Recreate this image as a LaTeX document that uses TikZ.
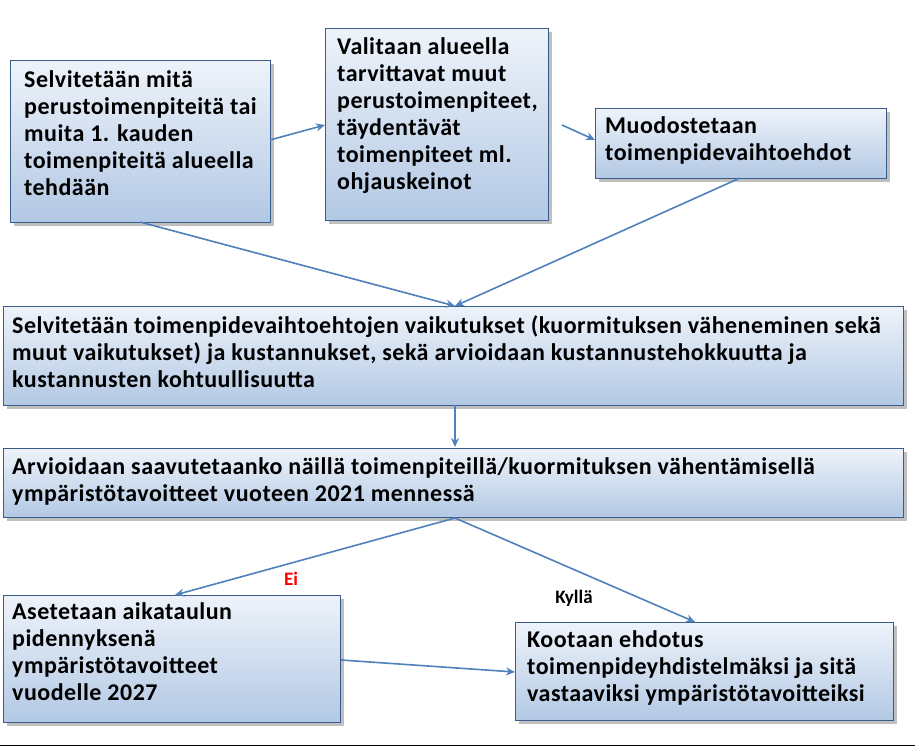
\documentclass[tikz,border=0pt]{standalone}
\usepackage{fontspec}
\setmainfont{Carlito}
\usetikzlibrary{shadows,arrows.meta}
\definecolor{bord}{RGB}{56,93,138}
\definecolor{arr}{RGB}{79,129,189}
\definecolor{bot}{RGB}{178,200,228}
\definecolor{topc}{RGB}{238,243,250}
\tikzset{
 bx/.style={draw=bord,line width=1pt,top color=topc,bottom color=bot,
   drop shadow={shadow xshift=3pt,shadow yshift=-3pt,opacity=0.5},
   anchor=north west,inner sep=0pt},
 tx/.style={anchor=north west,align=left,inner sep=0pt,font=\bfseries\fontsize{24}{27}\selectfont\addfontfeature{LetterSpace=2}},
 ar/.style={draw=arr,line width=1.6pt,-{Stealth[length=9pt,width=8pt]}},
 lb/.style={font=\bfseries\fontsize{19}{20}\selectfont}
}
\begin{document}
\begin{tikzpicture}[x=1pt,y=-1pt]
\useasboundingbox (0,0) rectangle (915,753);
\fill[white] (0,0) rectangle (915,753);
\node[bx,minimum width=260pt,minimum height=162pt] (a) at (10,60) {};
\node[tx] (ta) at (24,70) {Selvitetään mitä\\perustoimenpiteitä tai\\muita 1. kauden\\toimenpiteitä alueella\\tehdään};
\node[bx,minimum width=223pt,minimum height=192pt] (b) at (325,28) {};
\node[tx] (tb) at (337,37) {Valitaan alueella\\tarvittavat muut\\perustoimenpiteet,\\täydentävät\\toimenpiteet ml.\\ohjauskeinot};
\node[bx,minimum width=291pt,minimum height=70pt] (c) at (595,108) {};
\node[tx] (tc) at (605,116) {Muodostetaan\\toimenpidevaihtoehdot};
\node[bx,minimum width=900pt,minimum height=99pt] (d) at (3,306) {};
\node[tx] (td) at (12,315) {Selvitetään toimenpidevaihtoehtojen vaikutukset (kuormituksen väheneminen sekä\\muut vaikutukset) ja kustannukset, sekä arvioidaan kustannustehokkuutta ja\\kustannusten kohtuullisuutta};
\node[bx,minimum width=900pt,minimum height=69pt] (e) at (3,448) {};
\node[tx] (te) at (12,457) {Arvioidaan saavutetaanko näillä toimenpiteillä/kuormituksen vähentämisellä\\ympäristötavoitteet vuoteen 2021 mennessä};
\node[bx,minimum width=337pt,minimum height=127pt] (f) at (3,595) {};
\node[tx] (tf) at (12,602) {Asetetaan aikataulun\\pidennyksenä\\ympäristötavoitteet\\vuodelle 2027};
\node[bx,minimum width=378pt,minimum height=98pt] (g) at (515,622) {};
\node[tx] (tg) at (527,630) {Kootaan ehdotus\\toimenpideyhdistelmäksi ja sitä\\vastaaviksi ympäristötavoitteiksi};
\coordinate (d1) at (455,306);
\draw[ar] (270,140) -- (325,125);
\draw[ar] (562,125) -- (595,140);
\draw[ar] (140,222) -- (d1);
\draw[ar] (740,178) -- (d1);
\draw[ar] (455,405) -- (455,447);
\draw[ar] (455,518) -- (175,595);
\draw[ar] (455,518) -- (695,622);
\draw[ar] (f.east|-0,660) -- (515,672);
\node[lb,text=red] (ei) at (291,579) {Ei};
\node[lb] (ky) at (574,598) {Kyllä};
\draw[line width=1pt] (0,745) -- (915,745);
\end{tikzpicture}
\end{document}
